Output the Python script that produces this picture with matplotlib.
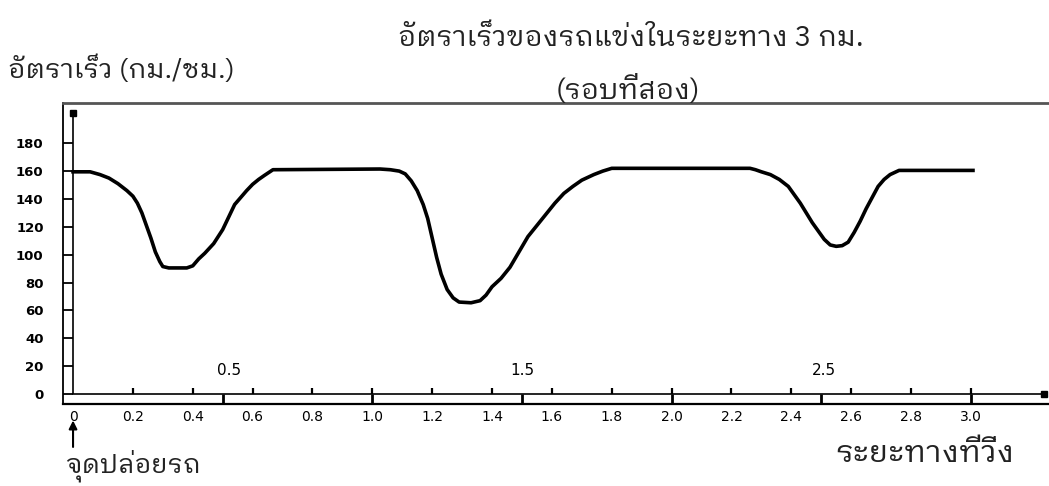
import matplotlib
matplotlib.use('Agg')
import matplotlib.pyplot as plt
from matplotlib import font_manager
from matplotlib.ft2font import FT2Font

# distance (km) and speed (km/h)
distance = [0.000, 0.057, 0.090, 0.120, 0.150, 0.180, 0.200, 0.215, 0.230, 0.245,
            0.260, 0.275, 0.290, 0.300, 0.320, 0.380, 0.400, 0.420, 0.440, 0.470,
            0.500, 0.520, 0.540, 0.560, 0.580, 0.600, 0.620, 0.640, 0.668,
            1.026, 1.060, 1.090, 1.110, 1.130, 1.150, 1.170, 1.185, 1.200, 1.215,
            1.230, 1.250, 1.270, 1.290, 1.330, 1.360, 1.380, 1.400, 1.430, 1.460,
            1.490, 1.520, 1.550, 1.580, 1.610, 1.640, 1.670, 1.700, 1.740, 1.770,
            1.800,
            2.262, 2.280, 2.300, 2.330, 2.360, 2.390, 2.410, 2.430, 2.450, 2.470,
            2.490, 2.510, 2.530, 2.550, 2.570, 2.590, 2.610, 2.630, 2.650, 2.670,
            2.690, 2.710, 2.730, 2.760, 3.007]
speed = [159.5, 159.5, 157.5, 155, 151, 146, 142, 137, 130, 121,
         112, 102, 95, 91.5, 90.5, 90.5, 92, 97, 101, 108,
         118, 127, 136, 141, 146, 150.5, 154, 157, 161,
         161.5, 161, 160, 158, 153, 146, 136, 126, 112, 98,
         86, 75, 69, 66, 65.5, 67, 71, 77, 83, 91,
         102, 113, 121, 129, 137, 144, 149, 153.5, 157.5, 160,
         162,
         162, 161, 159.5, 157.5, 154, 149, 143, 137, 130, 123,
         117, 111, 107, 106, 106.5, 109, 116, 124, 133, 141,
         149, 154, 157.5, 160.5, 160.5]

y_ticks = [0, 20, 40, 60, 80, 100, 120, 140, 160, 180]
x_ticks = [0, 0.2, 0.4, 0.6, 0.8, 1.0, 1.2, 1.4, 1.6, 1.8, 2.0, 2.2, 2.4, 2.6, 2.8, 3.0]
x_tick_labels = ['0', '0.2', '0.4', '0.6', '0.8', '1.0', '1.2', '1.4', '1.6', '1.8',
                 '2.0', '2.2', '2.4', '2.6', '2.8', '3.0']
half_km = [0.5, 1.0, 1.5, 2.0, 2.5, 3.0]
half_km_labels = ['0.5', '1.5', '2.5']
half_km_label_pos = [0.52, 1.50, 2.51]

title_1 = 'อัตราเร็วของรถแข่งในระยะทาง 3 กม.'
title_2 = '(รอบที่สอง)'
y_title = 'อัตราเร็ว (กม./ชม.)'
x_title = 'ระยะทางที่วิ่ง'
start_text = 'จุดปล่อยรถ'


# find an installed font that has Thai letters
def thai_fonts():
    found = []
    for path in font_manager.findSystemFonts():
        try:
            if 0x0E01 in FT2Font(path).get_charmap():
                name = font_manager.FontProperties(fname=path).get_name()
                if name not in found:
                    found.append(name)
        except Exception:
            pass
    return found


found = thai_fonts()
thai = 'DejaVu Sans'
for name in ['IBM Plex Sans Thai Looped', 'Noto Sans Thai', 'Loma', 'Garuda']:
    if name in found:
        thai = name
        break
else:
    if found:
        thai = found[0]
thai_family = [thai, 'DejaVu Sans']

fig = plt.figure(figsize=(10.49, 4.86), dpi=100)
ax = fig.add_axes([0.0601, 0.1687, 0.9399, 0.6194])
ax.set_xlim(-0.0334, 3.261)
ax.set_ylim(-7.18, 208.9)

# frame
ax.spines['right'].set_visible(False)
ax.spines['left'].set_linewidth(1.3)
ax.spines['bottom'].set_linewidth(1.6)
ax.spines['top'].set_linewidth(2.0)
ax.spines['top'].set_color('#555555')

# inner axes with arrow heads
ax.plot([0, 0], [0, 202], color='black', lw=1.2, solid_capstyle='butt')
ax.plot([0], [202], marker='s', color='black', ms=4)
ax.plot([0, 3.245], [0, 0], color='black', lw=1.2)
ax.plot([3.245], [0], marker='s', color='black', ms=4.5)

# y ticks between frame and inner axis
ax.set_yticks(y_ticks)
ax.tick_params(axis='y', direction='in', length=7.2, width=1.3, pad=14)
for lab in ax.get_yticklabels():
    lab.set_fontsize(9.5)
    lab.set_fontweight('bold')

# x tick labels under the frame, tick marks drawn by hand
ax.set_xticks(x_ticks)
ax.set_xticklabels(x_tick_labels)
ax.tick_params(axis='x', length=0, pad=4, labelsize=10)
ax.vlines(x_ticks[1:], 0, 4, color='black', lw=1.6)
ax.vlines(half_km, -7.18, 0, color='black', lw=2.0)
for lab, xp in zip(half_km_labels, half_km_label_pos):
    ax.text(xp, 17, lab, ha='center', va='center', fontsize=11)

# speed curve
ax.plot(distance, speed, color='black', lw=2.6, solid_joinstyle='round')

# texts
fig.text(0.601, 0.920, title_1, ha='center', va='center', fontsize=20.3, family=thai_family, color='#222222')
fig.text(0.599, 0.815, title_2, ha='center', va='center', fontsize=20.5, family=thai_family, color='#222222')
fig.text(0.008, 0.858, y_title, ha='left', va='center', fontsize=19.6, family=thai_family, color='#222222')
fig.text(0.062, 0.042, start_text, ha='left', va='center', fontsize=19, family=thai_family, color='#222222')
fig.text(0.967, 0.068, x_title, ha='right', va='center', fontsize=22.5, family=thai_family, color='#222222')

# start arrow under 0
ax.annotate('', xy=(0, -17), xytext=(0, -40), xycoords='data', textcoords='data',
            arrowprops=dict(arrowstyle='-|>', color='black', lw=1.5, mutation_scale=12),
            annotation_clip=False)

fig.savefig('out.png', dpi=100)
